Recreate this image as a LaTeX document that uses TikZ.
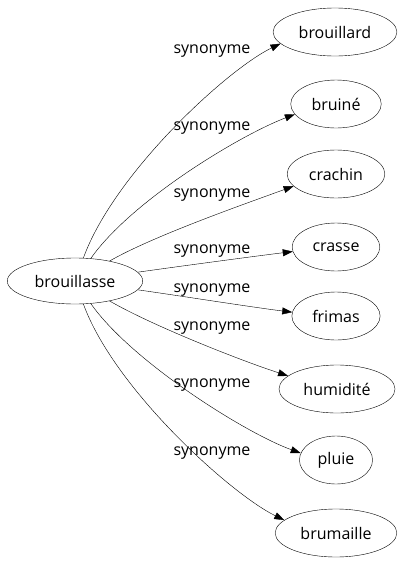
\documentclass[tikz,border=0pt]{standalone}
\usepackage{fontspec}
\setmainfont{Open Sans}
\usetikzlibrary{shapes.geometric,arrows.meta}
\begin{document}
\begin{tikzpicture}[x=1pt,y=1pt,
    word/.style={draw,ellipse,inner xsep=7.5pt,inner ysep=0pt,minimum height=48pt,font=\fontsize{16}{19}\selectfont},
    syn/.style={anchor=base,font=\fontsize{16}{19}\selectfont},
    edge/.style={-{Triangle[length=10pt,width=7pt]}}]
    \useasboundingbox (0,0) rectangle (407,-563);
    \node[word,minimum height=46pt] (brouillasse) at (75,-281) {brouillasse};
    \node[word] (brouillard) at (335,-32)  {brouillard};
    \node[word] (bruine)     at (336,-104) {bruiné};
    \node[word] (crachin)    at (336,-174) {crachin};
    \node[word] (crasse)     at (336,-247) {crasse};
    \node[word] (frimas)     at (336,-316) {frimas};
    \node[word] (humidite)   at (337,-389) {humidité};
    \node[word] (pluie)      at (336,-460) {pluie};
    \node[word] (brumaille)  at (336,-533) {brumaille};
    \draw[edge] (brouillasse.70)  .. controls +(70:90)  and +(206:60) .. (brouillard.192);
    \draw[edge] (brouillasse.55)  .. controls +(55:70)  and +(201:60) .. (bruine.194);
    \draw[edge] (brouillasse.30)  .. controls +(30:50)  and +(200:50) .. (crachin.196);
    \draw[edge] (brouillasse.8)   .. controls +(8:40)   and +(187:40) .. (crasse.186);
    \draw[edge] (brouillasse.-8)  .. controls +(-8:40)  and +(173:40) .. (frimas.175);
    \draw[edge] (brouillasse.-30) .. controls +(-30:50) and +(162:50) .. (humidite.165);
    \draw[edge] (brouillasse.-55) .. controls +(-55:70) and +(160:60) .. (pluie.169);
    \draw[edge] (brouillasse.-70) .. controls +(-70:90) and +(154:60) .. (brumaille.166);
    \node[syn] (s1) at (212,-53)  {synonyme};
    \node[syn] (s2) at (212,-130) {synonyme};
    \node[syn] (s3) at (212,-197) {synonyme};
    \node[syn] (s4) at (212,-253) {synonyme};
    \node[syn] (s5) at (212,-292) {synonyme};
    \node[syn] (s6) at (212,-330) {synonyme};
    \node[syn] (s7) at (212,-387) {synonyme};
    \node[syn] (s8) at (212,-455) {synonyme};
\end{tikzpicture}
\end{document}
